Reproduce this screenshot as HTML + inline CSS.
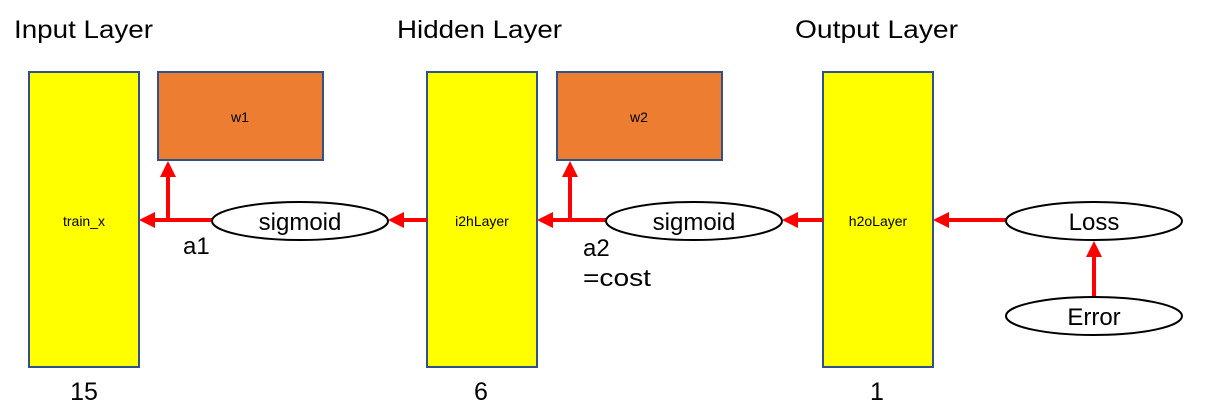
<!DOCTYPE html>
<html><head><style>body{margin:0;background:#fff}svg{display:block}text{font-family:"Liberation Sans",sans-serif;fill:#000}</style></head>
<body>
<svg width="1205" height="416" viewBox="0 0 1205 416">
<defs><marker id="a" markerWidth="4" markerHeight="4" refX="3" refY="2" orient="auto" markerUnits="strokeWidth"><path d="M0,0L4,2L0,4z" fill="#f00"/></marker></defs>
<g font-size="25">
<text x="14" y="38" textLength="139" lengthAdjust="spacingAndGlyphs">Input Layer</text>
<text x="397" y="38" textLength="165" lengthAdjust="spacingAndGlyphs">Hidden Layer</text>
<text x="795" y="38" textLength="163" lengthAdjust="spacingAndGlyphs">Output Layer</text>
<text x="84" y="400" text-anchor="middle">15</text>
<text x="481" y="400" text-anchor="middle">6</text>
<text x="877" y="400" text-anchor="middle">1</text>
</g>
<g stroke="#2f528f" stroke-width="2">
<rect x="29" y="72" width="110" height="295" fill="#ff0"/>
<rect x="427" y="72" width="110" height="295" fill="#ff0"/>
<rect x="823" y="72" width="110" height="295" fill="#ff0"/>
<rect x="158" y="72" width="165" height="88" fill="#ed7d31"/>
<rect x="557" y="72" width="165" height="88" fill="#ed7d31"/>
</g>
<g font-size="14" text-anchor="middle">
<text x="84" y="226">train_x</text><text x="482" y="226">i2hLayer</text><text x="878" y="226">h2oLayer</text>
<text x="240" y="122">w1</text><text x="639" y="122">w2</text>
</g>
<g stroke="#f00" stroke-width="4" fill="none">
<line x1="212" y1="220" x2="143" y2="220" marker-end="url(#a)"/>
<line x1="168" y1="220" x2="168" y2="165" marker-end="url(#a)"/>
<line x1="427" y1="220" x2="392" y2="220" marker-end="url(#a)"/>
<line x1="606" y1="220" x2="541" y2="220" marker-end="url(#a)"/>
<line x1="570" y1="220" x2="570" y2="165" marker-end="url(#a)"/>
<line x1="823" y1="220" x2="786" y2="220" marker-end="url(#a)"/>
<line x1="1006" y1="220" x2="937" y2="220" marker-end="url(#a)"/>
<line x1="1094" y1="297" x2="1094" y2="245" marker-end="url(#a)"/>
</g>
<g stroke="#000" stroke-width="2" fill="#fff">
<ellipse cx="300" cy="221" rx="88" ry="19"/>
<ellipse cx="694" cy="221" rx="88" ry="19"/>
<ellipse cx="1094" cy="221" rx="88" ry="19"/>
<ellipse cx="1094" cy="316" rx="88" ry="19"/>
</g>
<g font-size="24" text-anchor="middle">
<text x="300" y="230">sigmoid</text><text x="694" y="230">sigmoid</text>
<text x="1094" y="230">Loss</text><text x="1094" y="325">Error</text>
</g>
<g font-size="24">
<text x="183" y="254">a1</text>
<text x="583" y="256">a2</text>
<text x="583" y="286" textLength="68" lengthAdjust="spacingAndGlyphs">=cost</text>
</g>
</svg>
</body></html>
